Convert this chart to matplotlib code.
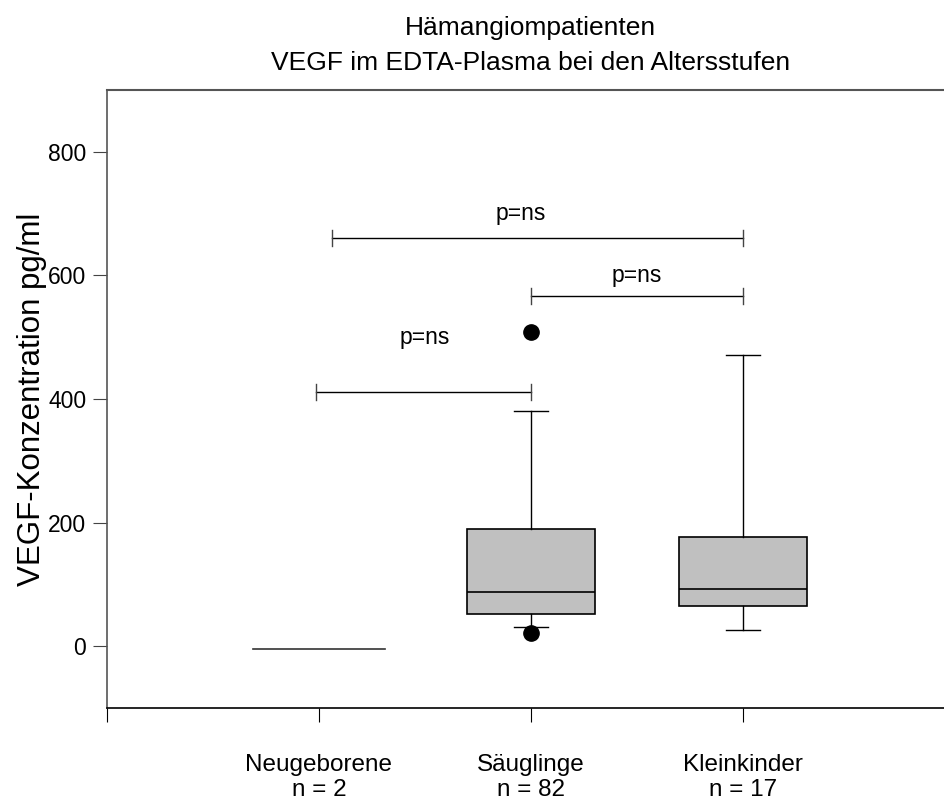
import matplotlib
matplotlib.use('Agg')
from matplotlib import pyplot as plt

plt.rcParams['font.family'] = ['Liberation Sans', 'DejaVu Sans']

groups = ['Neugeborene', 'Säuglinge', 'Kleinkinder']
n_vals = [2, 82, 17]
whislo = [-4, 31, 27]
q1 = [-4, 52, 65]
med = [-4, 88, 93]
q3 = [-4, 189, 177]
whishi = [-4, 380, 471]
fliers = [[], [508, 21], []]

# significance brackets: (x start, x end, y, text x, text y)
br_x0 = [1.06, 2.0, 0.985]
br_x1 = [3.0, 3.0, 2.0]
br_y = [660, 567, 412]
txt_x = [1.95, 2.5, 1.5]
txt_y = [700, 600, 500]
br_text = ['p=ns', 'p=ns', 'p=ns']

fig = plt.figure(figsize=(9.45, 8.02), dpi=100)
ax = fig.add_axes([0.1132, 0.1172, 0.8974, 0.7706])

stats = []
for i in range(len(groups)):
    stats.append({'whislo': whislo[i], 'q1': q1[i], 'med': med[i], 'q3': q3[i],
                  'whishi': whishi[i], 'fliers': fliers[i]})

pos = [1, 2, 3]
ax.bxp(stats[1:], positions=pos[1:], widths=0.6, patch_artist=True,
       boxprops=dict(facecolor='#c0c0c0', edgecolor='black', linewidth=1.2),
       medianprops=dict(color='black', linewidth=1.2),
       whiskerprops=dict(color='black', linewidth=1),
       capprops=dict(color='black', linewidth=1),
       capwidths=0.165,
       flierprops=dict(marker='o', markerfacecolor='black', markeredgecolor='black',
                       markersize=11))
# n = 2: only a flat line
ax.plot([pos[0] - 0.31, pos[0] + 0.31], [med[0], med[0]], color='#333333', lw=1.2)

h = 13
for x0, x1, y, tx, ty, t in zip(br_x0, br_x1, br_y, txt_x, txt_y, br_text):
    ax.plot([x0, x1], [y, y], color='black', lw=1)
    ax.plot([x0, x0], [y - h, y + h], color='#444444', lw=1)
    ax.plot([x1, x1], [y - h, y + h], color='#444444', lw=1)
    ax.text(tx, ty, t, ha='center', va='center', fontsize=16.5)

ax.set_xlim(0, 4)
ax.set_ylim(-100, 900)
ax.set_yticks([0, 200, 400, 600, 800])
ax.set_xticks([0] + pos)
ax.set_xticklabels([''] + ['%s\nn = %d' % (g, n) for g, n in zip(groups, n_vals)])
for lbl in ax.get_xticklabels():
    lbl.set_linespacing(1.2)
ax.tick_params(axis='x', length=10, pad=23, labelsize=17.5)
ax.tick_params(axis='y', length=10, labelsize=16.5, color='#444444', pad=5)
ax.spines['right'].set_visible(False)
ax.spines['left'].set_color('#555555')
ax.spines['top'].set_color('#555555')
ax.spines['left'].set_linewidth(1.2)
ax.spines['top'].set_linewidth(1.5)
ax.spines['bottom'].set_linewidth(1.2)
ax.set_ylabel('VEGF-Konzentration pg/ml', fontsize=22.5, labelpad=1)

fig.text(0.561, 1 - 35 / 802, 'Hämangiompatienten', ha='center', va='baseline',
         fontsize=19)
fig.text(0.561, 1 - 70 / 802, 'VEGF im EDTA-Plasma bei den Altersstufen', ha='center',
         va='baseline', fontsize=19)

fig.savefig('out.png', dpi=100)
